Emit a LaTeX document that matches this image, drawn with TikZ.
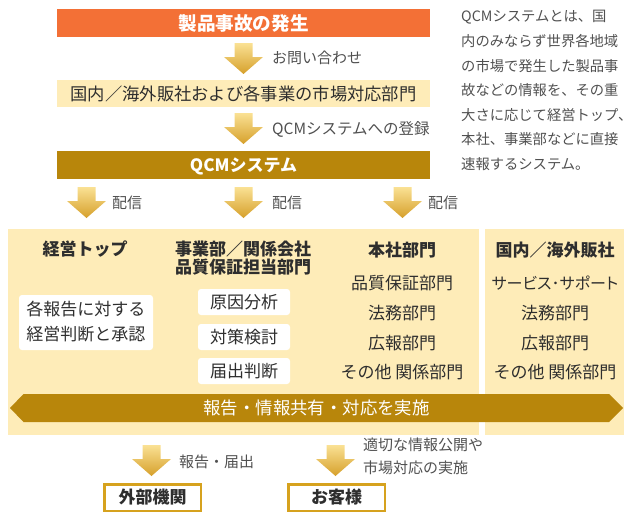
\documentclass[tikz,border=0pt]{standalone}
\usepackage{fontspec}
\setmainfont{Noto Sans CJK JP}
\usetikzlibrary{positioning}
\definecolor{orangebar}{HTML}{F37036}
\definecolor{paleyellow}{HTML}{FEECB8}
\definecolor{goldbar}{HTML}{B8860B}
\definecolor{arrowtop}{HTML}{FAE194}
\definecolor{arrowbot}{HTML}{D6A02B}
\definecolor{boxgold}{HTML}{D6A21E}
\definecolor{txtgray}{HTML}{505050}
\definecolor{txtdark}{HTML}{2E2E2E}
\newcommand{\jfs}[1]{\fontsize{#1}{#1}\selectfont}
\tikzset{
  tx/.style={inner sep=0pt, font=\jfs{#1}, text height={0.88*#1pt}, text depth={0.12*#1pt}},
  lbl/.style={tx=15, text=txtgray, anchor=west},
  desc/.style={tx=14.3, text=txtgray, anchor=west},
  item/.style={tx=17, text=txtdark},
  head/.style={tx=17, text=txtdark, font=\jfs{17}\bfseries},
  panel/.style={fill=paleyellow, inner sep=0pt},
  wbox/.style={fill=white, rounded corners=3pt, inner sep=0pt},
  endbox/.style={draw=boxgold, line width=2.5pt, fill=white, inner sep=0pt, minimum width=96.5pt, minimum height=26.5pt, tx=17, text=txtdark, font=\jfs{17}\bfseries},
  garrow/.pic={\shade[top color=arrowtop, bottom color=arrowbot]
     (-9,0) -- (9,0) -- (9,14) -- (19.5,14) -- (0,31) -- (-19.5,14) -- (-9,14) -- cycle;}
}
\begin{document}
\begin{tikzpicture}[x=1pt,y=-1pt]
\useasboundingbox (0,0) rectangle (640,514);

% top flow
\node[fill=orangebar, minimum width=373pt, minimum height=28pt, tx=18.6, text=white, font=\jfs{18.6}\bfseries] (accident) at (243.5,23) {製品事故の発生};
\pic at (243.5,43) {garrow};
\node[lbl] (inq) at (272,58) {お問い合わせ};
\node[fill=paleyellow, minimum width=373pt, minimum height=27pt, tx=17.3, text=txtdark] (market) at (243.5,93.5) {国内／海外販社および各事業の市場対応部門};
\pic at (243.5,113) {garrow};
\node[lbl, tx=15.5] (reg) at (272,129) {QCMシステムへの登録};
\node[fill=goldbar, minimum width=373pt, minimum height=28pt, tx=17, text=white, font=\jfs{17}\bfseries] (qcm) at (243.5,165) {QCMシステム};

% description
\node[desc] (d1) at (461,16) {QCMシステムとは、国};
\node[desc] (d2) at (461,41.5) {内のみならず世界各地域};
\node[desc] (d3) at (461,66) {の市場で発生した製品事};
\node[desc] (d4) at (461,90.5) {故などの情報を、その重};
\node[desc] (d5) at (461,115) {大さに応じて経営トップ、};
\node[desc] (d6) at (461,139.5) {本社、事業部などに直接};
\node[desc] (d7) at (461,164) {速報するシステム。};

% distribution arrows
\pic at (86.5,187) {garrow};
\node[lbl] (dist1) at (112,203) {配信};
\pic at (243.5,187) {garrow};
\node[lbl] (dist2) at (272,203) {配信};
\pic at (402.5,187) {garrow};
\node[lbl] (dist3) at (428,203) {配信};

% panels
\node[panel, minimum width=471pt, minimum height=206pt] (panelA) at (243.5,332) {};
\node[panel, minimum width=139pt, minimum height=206pt] (panelB) at (554.5,332) {};

% column 1
\node[head] (top) at (85,249) {経営トップ};
\node[wbox, minimum width=134pt, minimum height=55pt] (judgebox) at (86,322.5) {};
\node[item] (j1) at (86,309) {各報告に対する};
\node[item] (j2) at (86,334) {経営判断と承認};

% column 2
\node[head] (div1) at (243,249) {事業部／関係会社};
\node[head] (div2) at (243,267) {品質保証担当部門};
\node[wbox, minimum width=92pt, minimum height=26pt, item] (cause) at (244,302) {原因分析};
\node[wbox, minimum width=92pt, minimum height=26pt, item] (measure) at (244,337) {対策検討};
\node[wbox, minimum width=92pt, minimum height=26pt, item] (notify) at (244,371) {届出判断};

% column 3
\node[head] (hq) at (402,250) {本社部門};
\node[item] (hq1) at (402,283) {品質保証部門};
\node[item] (hq2) at (402,313) {法務部門};
\node[item] (hq3) at (402,343) {広報部門};
\node[item] (hq4) at (402,372) {その他 関係部門};

% column 4
\node[head] (sales) at (555,250) {国内／海外販社};
\node[item, tx=16] (s1) at (555,283) {\addfontfeature{RawFeature=+palt}サービス･サポート};
\node[item] (s2) at (555,313) {法務部門};
\node[item] (s3) at (555,343) {広報部門};
\node[item] (s4) at (555,372) {その他 関係部門};

% double arrow bar
\fill[goldbar] (10,408) -- (23.5,394) -- (609,394) -- (623,408) -- (609,422) -- (23.5,422) -- cycle;
\node[tx=17.4, text=white] (share) at (316.5,408) {報告・情報共有・対応を実施};

% bottom
\pic at (151.5,445) {garrow};
\node[lbl] (rep) at (179,462) {報告・届出};
\pic at (335.5,445) {garrow};
\node[lbl] (pub1) at (363,445) {適切な情報公開や};
\node[lbl] (pub2) at (363,468) {市場対応の実施};
\node[endbox] (ext) at (152.5,497.5) {外部機関};
\node[endbox] (cust) at (336.5,497.5) {お客様};
\end{tikzpicture}
\end{document}
